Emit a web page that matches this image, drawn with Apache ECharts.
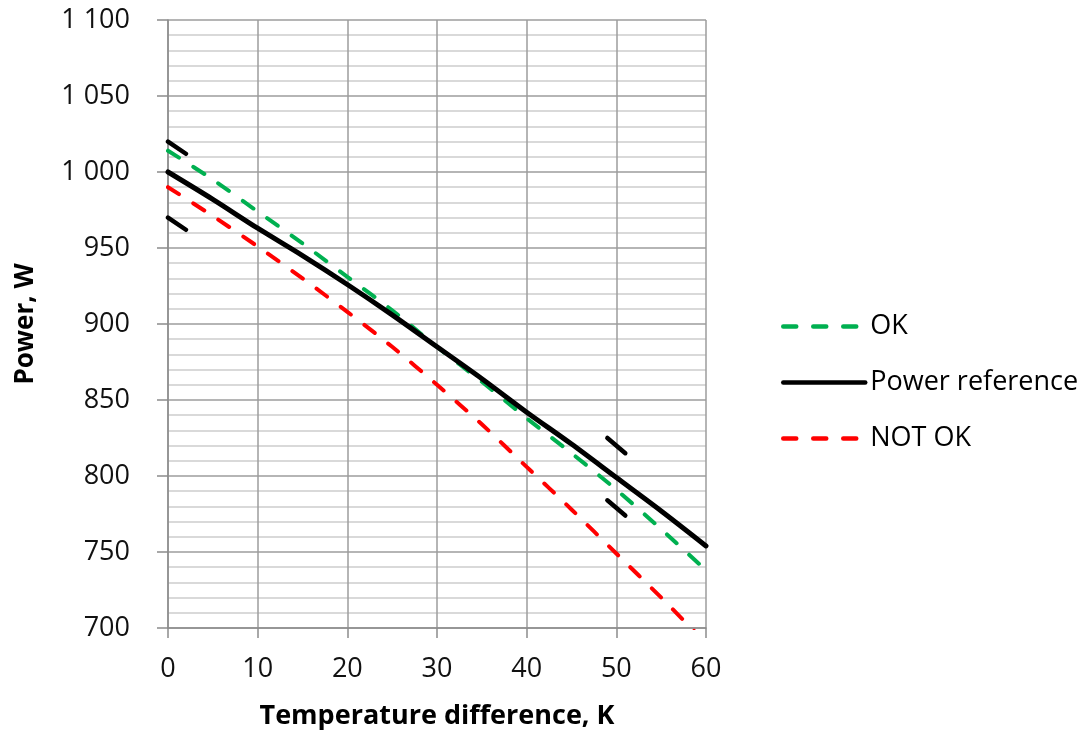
<!DOCTYPE html>
<html><head><meta charset="utf-8">
<script src="https://cdn.jsdelivr.net/npm/echarts@6/dist/echarts.min.js"></script>
<style>html,body{margin:0;padding:0;background:#fff}#c{width:1086px;height:733px}</style>
</head><body><div id="c"></div>
<script>
const temps       = [0, 5, 10, 15, 20, 25, 30, 35, 40, 45, 50, 55, 60];
const okValues    = [1014, 995, 974, 953, 931, 909, 885, 862, 838, 815, 791, 765, 738];
const refValues   = [1000, 982, 963, 945, 926, 906, 885, 864, 842, 821, 799, 777, 754];
const notOkValues = [990, 971, 951, 930, 908, 885, 860, 834, 806, 778, 749, 720, 690];
const bandSegments = [
  [[0, 1020], [2, 1012]],
  [[0, 970], [2, 962]],
  [[49, 825], [51, 815]],
  [[49, 784], [51, 774]]
];
const seriesNames = ['OK', 'Power reference', 'NOT OK'];
const xTitle = 'Temperature difference, K';
const yTitle = 'Power, W';

const FONT = 'Open Sans';
const pair = vals => temps.map((t, i) => [t, vals[i]]);
const fmtY = v => v >= 1000 ? Math.floor(v / 1000) + ' ' + String(v % 1000).padStart(3, '0') : String(v);

const chart = echarts.init(document.getElementById('c'), null, {renderer: 'canvas'});
const series = [
  {name: seriesNames[0], type: 'line', data: pair(okValues), symbol: 'none', z: 2, smooth: 0.3,
   lineStyle: {color: '#00b050', width: 4, type: [13, 17], cap: 'round'}, itemStyle: {color: '#00b050'}},
  {name: seriesNames[2], type: 'line', data: pair(notOkValues), symbol: 'none', z: 2, smooth: 0.3,
   lineStyle: {color: '#ff0000', width: 4, type: [13, 17], cap: 'round'}, itemStyle: {color: '#ff0000'}},
  {name: seriesNames[1], type: 'line', data: pair(refValues), symbol: 'none', z: 3, smooth: 0.3,
   lineStyle: {color: '#000', width: 5, cap: 'round'}, itemStyle: {color: '#000'}}
];
bandSegments.forEach(seg => series.push({
  type: 'line', data: seg, symbol: 'none', z: 3, silent: true,
  lineStyle: {color: '#000', width: 4.5, cap: 'round'}
}));

chart.setOption({
  animation: false,
  backgroundColor: '#fff',
  grid: {left: 168, top: 20, right: 380, bottom: 105, containLabel: false, outerBoundsMode: 'none'},
  legend: {
    data: seriesNames, orient: 'vertical', left: 776, top: 308, itemWidth: 82, itemHeight: 14,
    itemGap: 29, itemStyle: {opacity: 0}, lineStyle: {width: 4.5},
    textStyle: {fontFamily: FONT, fontSize: 27, color: '#000', padding: [0, 0, 0, 0]}
  },
  xAxis: {
    type: 'value', min: 0, max: 60, interval: 10,
    name: xTitle, nameLocation: 'middle', nameGap: 75,
    nameTextStyle: {fontFamily: FONT, fontSize: 27, fontWeight: 'bold', color: '#000'},
    axisLine: {show: true, lineStyle: {color: '#8c8c8c', width: 1.5}},
    axisTick: {show: true, inside: false, length: 10, lineStyle: {color: '#8c8c8c', width: 1.5}},
    axisLabel: {fontFamily: FONT, fontSize: 27, color: '#111', margin: 28},
    splitLine: {show: true, lineStyle: {color: '#9c9c9c', width: 1.5}}
  },
  yAxis: {
    type: 'value', min: 700, max: 1100, interval: 50,
    name: yTitle, nameLocation: 'middle', nameGap: 129, nameRotate: 90,
    nameTextStyle: {fontFamily: FONT, fontSize: 26, fontWeight: 'bold', color: '#000'},
    axisLine: {show: true, lineStyle: {color: '#8c8c8c', width: 1.5}},
    axisTick: {show: true, inside: false, length: 11, lineStyle: {color: '#8c8c8c', width: 1.5}},
    axisLabel: {fontFamily: FONT, fontSize: 27, color: '#111', margin: 38, formatter: fmtY},
    splitLine: {show: true, lineStyle: {color: '#9c9c9c', width: 1.5}},
    minorTick: {show: false, splitNumber: 5},
    minorSplitLine: {show: true, lineStyle: {color: '#cdcdcd', width: 1.5}}
  },
  series: series
});
</script></body></html>
